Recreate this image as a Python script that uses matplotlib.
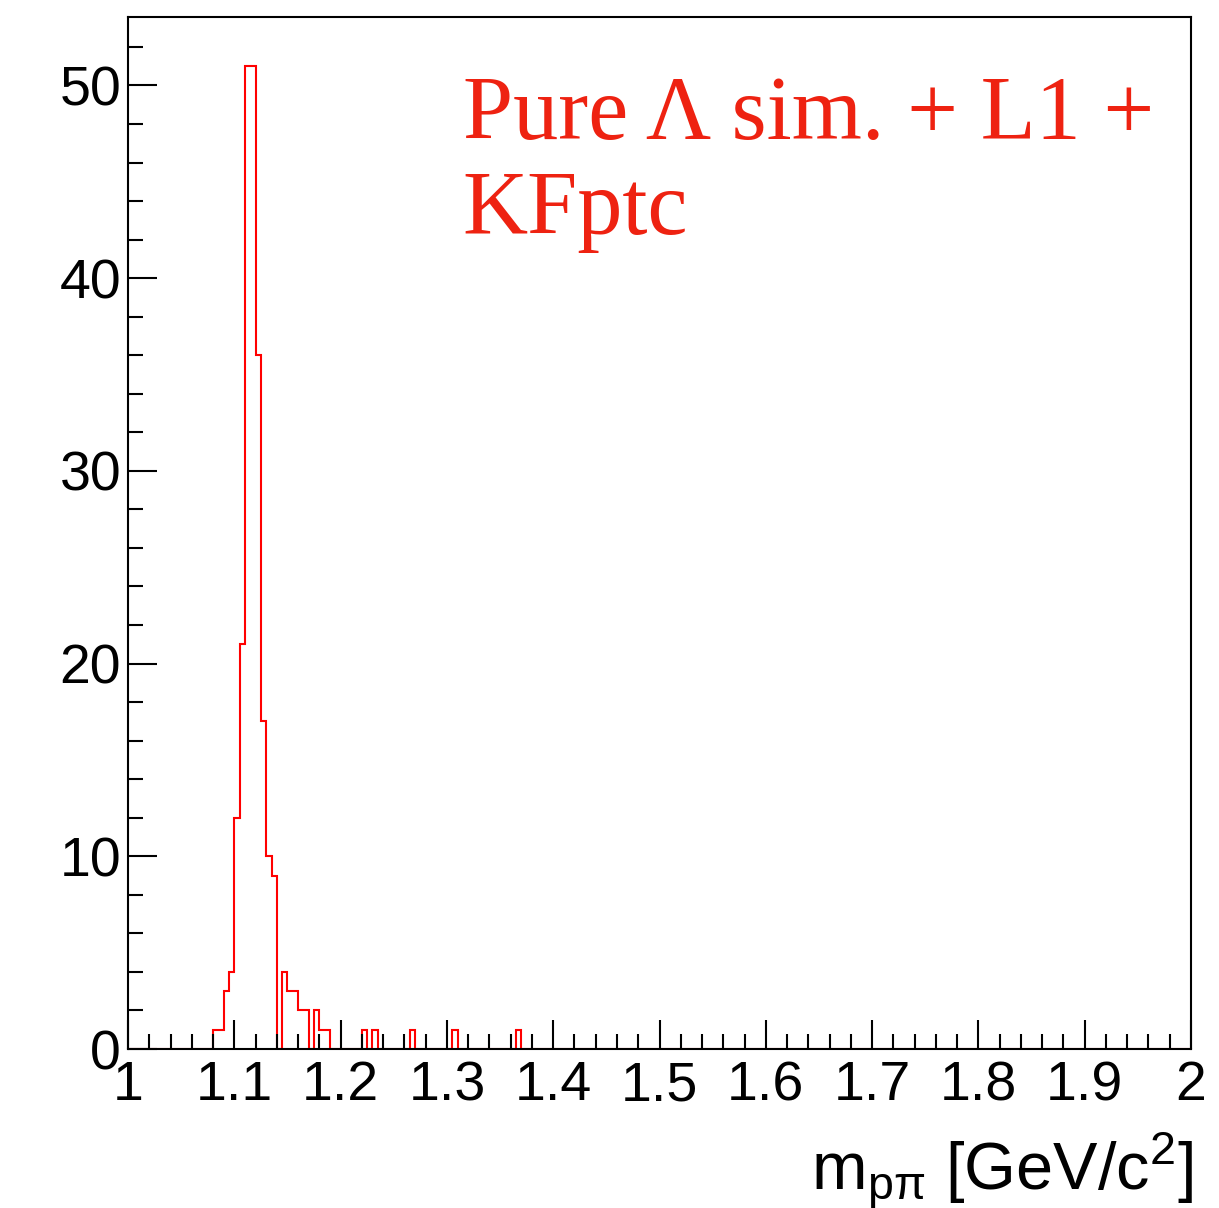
import numpy as np
import matplotlib
matplotlib.use('Agg')
import matplotlib.pyplot as plt
from matplotlib.ticker import MultipleLocator, FormatStrFormatter

# bin centres (GeV/c^2) of the non-empty bins and their counts, 200 bins in [1, 2]
mass = [1.0825, 1.0875, 1.0925, 1.0975, 1.1025, 1.1075, 1.1125, 1.1175,
        1.1225, 1.1275, 1.1325, 1.1375, 1.1475, 1.1525, 1.1575, 1.1625,
        1.1675, 1.1775, 1.1825, 1.1875, 1.2225, 1.2325, 1.2675, 1.3075,
        1.3675]
counts = [1, 1, 3, 4, 12, 21, 51, 51,
          36, 17, 10, 9, 4, 3, 3, 2,
          2, 2, 1, 1, 1, 1, 1, 1,
          1]
n_bins = 200
x_range = (1.0, 2.0)
label_lines = ['Pure Λ sim. + L1 +', 'KFptc']

plt.rcParams['font.family'] = ['Liberation Sans', 'DejaVu Sans']
plt.rcParams['mathtext.fontset'] = 'custom'
plt.rcParams['mathtext.rm'] = 'Liberation Sans'
plt.rcParams['mathtext.it'] = 'Liberation Sans'

fig = plt.figure(figsize=(12.19, 12.08), dpi=100)
ax = fig.add_axes([128/1219, 159/1208, 1063/1219, 1032/1208])

ax.hist(mass, bins=n_bins, range=x_range, weights=counts,
        histtype='step', color='#ff0000', linewidth=1.5, zorder=1)

ax.set_xlim(*x_range)
ax.set_ylim(0, max(counts) * 1.05)

ax.xaxis.set_major_locator(MultipleLocator(0.1))
ax.xaxis.set_minor_locator(MultipleLocator(0.02))
ax.xaxis.set_major_formatter(FormatStrFormatter('%g'))
ax.yaxis.set_major_locator(MultipleLocator(10))
ax.yaxis.set_minor_locator(MultipleLocator(2))

ax.tick_params(which='both', direction='in', top=False, right=False,
               width=1.5, labelsize=40)
ax.tick_params(which='major', length=21)
ax.tick_params(which='minor', length=11)
ax.tick_params(axis='x', pad=8)
ax.tick_params(axis='y', pad=5)
for s in ax.spines.values():
    s.set_linewidth(1.5)

ax.set_xlabel('m$_{\\mathrm{pπ}}$ [GeV/c$^{2}$]', fontsize=48)
ax.xaxis.set_label_coords(1.002, -0.137)
ax.xaxis.label.set_horizontalalignment('right')
ax.xaxis.label.set_verticalalignment('baseline')

ax.text(0.315, 0.882, label_lines[0], transform=ax.transAxes, color='#ee2211',
        fontsize=65, family=['Liberation Serif', 'DejaVu Serif'], va='baseline')
ax.text(0.315, 0.790, label_lines[1], transform=ax.transAxes, color='#ee2211',
        fontsize=65, family=['Liberation Serif', 'DejaVu Serif'], va='baseline')

fig.savefig('out.png', dpi=100)
